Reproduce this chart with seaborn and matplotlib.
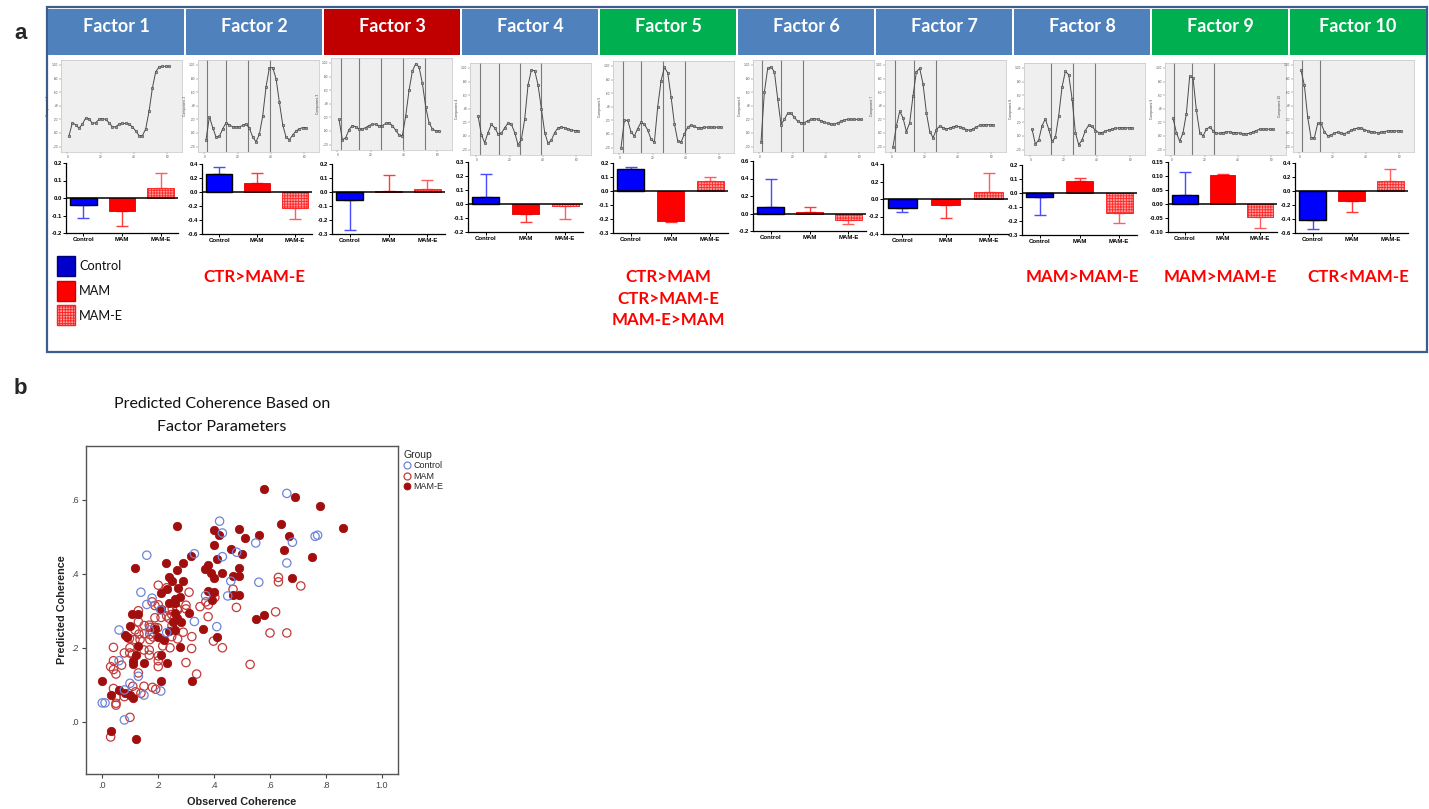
import numpy as np
import pandas as pd
import matplotlib
matplotlib.use("Agg")
import matplotlib.pyplot as plt
from matplotlib.patches import Rectangle
from matplotlib.lines import Line2D
import seaborn as sns

sns.set_theme(style="ticks")
plt.rcParams["font.family"] = ["Liberation Sans", "DejaVu Sans"]
plt.rcParams["hatch.linewidth"] = 0.6

# ------------------------------------------------------------------ data
factor_names = [f"Factor {k}" for k in range(1, 11)]
header_colors = ["#4F81BD", "#4F81BD", "#C00000", "#4F81BD", "#00B050",
                 "#4F81BD", "#4F81BD", "#4F81BD", "#00B050", "#00B050"]
groups = ["Control", "MAM", "MAM-E"]

# factor loading profiles (component value per lag)
lag = list(range(1, 62, 2))
component_1 = [-0.04, 0.15, 0.12, 0.07, 0.13, 0.22, 0.21, 0.14, 0.15, 0.20, 0.21, 0.20, 0.15, 0.09, 0.09, 0.13,
               0.14, 0.14, 0.13, 0.09, 0.03, -0.04, -0.04, 0.06, 0.32, 0.66, 0.90, 0.97, 0.98, 0.98, 0.98]
component_2 = [-0.10, 0.24, 0.08, -0.06, -0.05, 0.06, 0.15, 0.12, 0.09, 0.09, 0.09, 0.11, 0.13, 0.07, -0.06, -0.13,
               -0.02, 0.25, 0.68, 0.96, 0.96, 0.80, 0.45, 0.12, -0.06, -0.10, -0.03, 0.03, 0.06, 0.08, 0.08]
component_3 = [0.17, -0.13, -0.10, 0.02, 0.08, 0.06, 0.03, 0.03, 0.05, 0.08, 0.10, 0.10, 0.07, 0.08, 0.11, 0.12,
               0.08, 0.01, -0.06, -0.07, 0.22, 0.60, 0.88, 0.99, 0.94, 0.70, 0.35, 0.12, 0.03, 0.00, 0.00]
component_4 = [0.30, 0.02, -0.10, 0.05, 0.17, 0.12, 0.03, 0.04, 0.12, 0.19, 0.17, 0.05, -0.13, -0.05, 0.25, 0.75,
               0.97, 0.96, 0.75, 0.40, 0.05, -0.11, -0.06, 0.05, 0.12, 0.13, 0.12, 0.10, 0.09, 0.08, 0.08]
component_5 = [-0.20, 0.20, 0.20, 0.03, -0.03, 0.08, 0.17, 0.14, 0.06, -0.08, -0.12, 0.40, 0.78, 0.98, 0.90, 0.55,
               0.15, -0.10, -0.12, 0.00, 0.10, 0.13, 0.11, 0.09, 0.09, 0.10, 0.10, 0.10, 0.10, 0.10, 0.10]
component_6 = [-0.13, 0.60, 0.95, 0.97, 0.90, 0.50, 0.12, 0.20, 0.29, 0.29, 0.23, 0.17, 0.15, 0.15, 0.18, 0.20,
               0.21, 0.20, 0.18, 0.16, 0.14, 0.13, 0.13, 0.15, 0.17, 0.19, 0.20, 0.20, 0.20, 0.20, 0.20]
component_7 = [-0.20, 0.10, 0.32, 0.22, 0.02, 0.15, 0.55, 0.90, 0.95, 0.72, 0.30, 0.02, -0.07, 0.05, 0.10, 0.08,
               0.06, 0.07, 0.09, 0.10, 0.09, 0.07, 0.05, 0.04, 0.06, 0.09, 0.11, 0.12, 0.12, 0.12, 0.12]
component_8 = [0.10, -0.12, -0.06, 0.15, 0.25, 0.10, -0.08, -0.02, 0.30, 0.72, 0.95, 0.90, 0.55, 0.05, -0.13, -0.06,
               0.08, 0.16, 0.14, 0.08, 0.05, 0.05, 0.07, 0.09, 0.10, 0.11, 0.12, 0.12, 0.12, 0.12, 0.12]
component_9 = [0.26, 0.05, -0.08, 0.05, 0.33, 0.88, 0.85, 0.38, 0.05, 0.00, 0.10, 0.13, 0.08, 0.04, 0.04, 0.05,
               0.06, 0.06, 0.05, 0.05, 0.04, 0.03, 0.03, 0.04, 0.06, 0.08, 0.10, 0.10, 0.10, 0.10, 0.10]
component_10 = [0.92, 0.70, 0.23, -0.07, -0.07, 0.14, 0.14, 0.02, -0.04, -0.03, 0.00, 0.01, 0.00, -0.01, 0.01, 0.04,
                0.06, 0.07, 0.07, 0.05, 0.03, 0.02, 0.01, 0.00, 0.01, 0.02, 0.03, 0.03, 0.03, 0.03, 0.03]
components = [component_1, component_2, component_3, component_4, component_5,
              component_6, component_7, component_8, component_9, component_10]

# lag boundaries marked by vertical reference lines
segment_bounds = [[], [1.5, 13, 26, 39.5], [2, 13, 26, 39.6, 52.6], [2.4, 13.4, 26.4, 38.9],
                  [2, 13, 26.4, 39.4], [1.8, 12.8, 26], [2.2, 13.4, 26.6], [12.4, 25.4, 38.8],
                  [1.6, 12.6, 25.6], [1.6, 12.6]]

# group means and SEM of the factor scores
control_mean = [-0.038, 0.262, -0.057, 0.052, 0.157, 0.069, -0.103, -0.029, 0.033, -0.420]
control_sem = [0.076, 0.100, 0.214, 0.160, 0.014, 0.331, 0.045, 0.131, 0.080, 0.123]
mam_mean = [-0.072, 0.129, 0.010, -0.074, -0.217, 0.020, -0.065, 0.088, 0.104, -0.138]
mam_sem = [0.090, 0.138, 0.114, 0.057, 0.007, 0.050, 0.155, 0.022, 0.002, 0.162]
mame_mean = [0.057, -0.233, 0.024, -0.014, 0.069, -0.070, 0.076, -0.145, -0.046, 0.143]
mame_sem = [0.086, 0.148, 0.062, 0.091, 0.033, 0.053, 0.217, 0.067, 0.040, 0.167]

bar_ylim = [(-0.2, 0.2, 0.1), (-0.6, 0.4, 0.2), (-0.3, 0.2, 0.1), (-0.2, 0.3, 0.1), (-0.3, 0.2, 0.1),
            (-0.2, 0.6, 0.2), (-0.4, 0.4, 0.2), (-0.3, 0.2, 0.1), (-0.10, 0.15, 0.05), (-0.6, 0.4, 0.2)]

contrasts = ["", "CTR>MAM-E", "", "", "CTR>MAM\nCTR>MAM-E\nMAM-E>MAM", "", "",
             "MAM>MAM-E", "MAM>MAM-E", "CTR<MAM-E"]

# observed vs predicted coherence per animal
control_obs = [0.661, 0.421, 0.431, 0.550, 0.681, 0.762, 0.771, 0.482, 0.331, 0.161,
               0.431, 0.661, 0.561, 0.461, 0.140, 0.180, 0.161, 0.371, 0.450, 0.211,
               0.331, 0.411, 0.062, 0.170, 0.232, 0.062, 0.101, 0.081, 0.151, 0.211,
               0.002, 0.012, 0.081, 0.131]
control_pred = [0.617, 0.542, 0.510, 0.483, 0.485, 0.501, 0.504, 0.458, 0.454, 0.450,
                0.446, 0.429, 0.377, 0.380, 0.350, 0.334, 0.317, 0.341, 0.340, 0.302,
                0.271, 0.257, 0.248, 0.248, 0.241, 0.165, 0.104, 0.086, 0.072, 0.083,
                0.051, 0.051, 0.005, 0.123]
mam_obs = [0.631, 0.631, 0.711, 0.469, 0.481, 0.661, 0.530, 0.202, 0.232, 0.312,
           0.180, 0.190, 0.202, 0.131, 0.252, 0.270, 0.301, 0.301, 0.351, 0.372,
           0.381, 0.404, 0.621, 0.601, 0.380, 0.240, 0.250, 0.190, 0.212, 0.131,
           0.152, 0.172, 0.190, 0.119, 0.133, 0.152, 0.172, 0.099, 0.119, 0.137,
           0.172, 0.184, 0.250, 0.271, 0.291, 0.322, 0.042, 0.101, 0.218, 0.244,
           0.321, 0.399, 0.431, 0.081, 0.100, 0.110, 0.170, 0.170, 0.151, 0.202,
           0.202, 0.202, 0.301, 0.339, 0.042, 0.071, 0.032, 0.042, 0.051, 0.131,
           0.042, 0.111, 0.151, 0.181, 0.193, 0.121, 0.140, 0.051, 0.051, 0.051,
           0.081, 0.101, 0.032, 0.200, 0.251, 0.232, 0.240, 0.271, 0.170]
mam_pred = [0.390, 0.378, 0.367, 0.358, 0.309, 0.240, 0.155, 0.369, 0.362, 0.350,
            0.324, 0.314, 0.316, 0.300, 0.305, 0.305, 0.315, 0.305, 0.311, 0.324,
            0.316, 0.336, 0.297, 0.240, 0.284, 0.280, 0.290, 0.281, 0.282, 0.270,
            0.260, 0.255, 0.255, 0.248, 0.237, 0.238, 0.236, 0.225, 0.222, 0.222,
            0.222, 0.229, 0.230, 0.224, 0.242, 0.230, 0.201, 0.200, 0.205, 0.200,
            0.198, 0.218, 0.200, 0.186, 0.186, 0.183, 0.194, 0.180, 0.194, 0.178,
            0.165, 0.149, 0.160, 0.129, 0.165, 0.153, 0.149, 0.141, 0.129, 0.132,
            0.090, 0.096, 0.096, 0.093, 0.088, 0.081, 0.077, 0.066, 0.050, 0.045,
            0.068, 0.012, -0.041, 0.254, 0.260, 0.286, 0.302, 0.302, 0.261]
mame_obs = [0.58, 0.69, 0.78, 0.86, 0.27, 0.64, 0.40, 0.42, 0.49, 0.51,
            0.56, 0.67, 0.40, 0.65, 0.75, 0.46, 0.50, 0.32, 0.41, 0.23,
            0.29, 0.12, 0.27, 0.37, 0.38, 0.49, 0.43, 0.39, 0.401, 0.47,
            0.49, 0.68, 0.24, 0.25, 0.291, 0.271, 0.212, 0.232, 0.381, 0.401,
            0.393, 0.47, 0.49, 0.24, 0.262, 0.28, 0.262, 0.109, 0.131, 0.212,
            0.262, 0.27, 0.282, 0.254, 0.312, 0.551, 0.58, 0.363, 0.101, 0.083,
            0.089, 0.19, 0.24, 0.262, 0.202, 0.222, 0.411, 0.129, 0.28, 0.121,
            0.212, 0.111, 0.111, 0.151, 0.232, 0.002, 0.211, 0.321, 0.032, 0.062,
            0.083, 0.101, 0.111, 0.032, 0.121]
mame_pred = [0.63, 0.607, 0.582, 0.523, 0.53, 0.533, 0.517, 0.504, 0.52, 0.496,
             0.505, 0.503, 0.478, 0.465, 0.446, 0.466, 0.453, 0.448, 0.441, 0.428,
             0.428, 0.415, 0.41, 0.413, 0.423, 0.416, 0.401, 0.403, 0.389, 0.393,
             0.393, 0.389, 0.392, 0.38, 0.381, 0.362, 0.347, 0.36, 0.353, 0.35,
             0.329, 0.342, 0.342, 0.32, 0.333, 0.336, 0.32, 0.291, 0.291, 0.305,
             0.295, 0.281, 0.27, 0.27, 0.295, 0.278, 0.289, 0.252, 0.259, 0.234,
             0.23, 0.252, 0.246, 0.248, 0.228, 0.222, 0.23, 0.205, 0.201, 0.18,
             0.18, 0.164, 0.155, 0.158, 0.158, 0.109, 0.111, 0.109, 0.072, 0.086,
             0.077, 0.072, 0.063, -0.025, -0.046]

# ------------------------------------------------------------------ layout helpers
W, H = 1429, 809
fig = plt.figure(figsize=(W / 100, H / 100), dpi=100)
fig.patch.set_facecolor("white")


def px_rect(left, top, width, height):
    return [left / W, 1 - (top + height) / H, width / W, height / H]


TITLE_FONT = ["Lato", "DejaVu Sans"]

overlay = fig.add_axes([0, 0, 1, 1], zorder=-5)
overlay.set_xlim(0, W)
overlay.set_ylim(H, 0)
overlay.axis("off")

# panel a frame and header row
overlay.add_patch(Rectangle((47, 7), 1380, 345, fill=False, edgecolor="#3B5E8C", lw=1.6))
col_w = 138.0
for k, (name, hc) in enumerate(zip(factor_names, header_colors)):
    x0 = 47 + k * col_w
    overlay.add_patch(Rectangle((x0 + 0.8, 9), col_w - 1.6, 46, facecolor=hc, edgecolor="none"))
    overlay.text(x0 + col_w / 2, 26, name, color="white", fontsize=13, fontweight="bold",
                 family=TITLE_FONT, ha="center", va="center")
    if contrasts[k]:
        for j, line in enumerate(contrasts[k].split("\n")):
            overlay.text(x0 + col_w / 2, 277 + j * 21.5, line, color="#FF0000", fontsize=12.2,
                         fontweight="bold", family=TITLE_FONT, ha="center", va="center")

overlay.text(14, 33, "a", fontsize=16, fontweight="bold", ha="left", va="center")
overlay.text(14, 388, "b", fontsize=16, fontweight="bold", ha="left", va="center")

# group key of panel a
key_face = ["#0000CC", "#FF0000", "#FFA0A0"]
key_edge = ["#00007A", "#D00000", "#FF2020"]
for j, g in enumerate(groups):
    y0 = 256 + j * 24.5
    overlay.add_patch(Rectangle((57, y0), 18, 20, facecolor=key_face[j], edgecolor=key_edge[j], lw=1.0,
                                hatch="+" * 6 if g == "MAM-E" else None))
    overlay.text(79, y0 + 10.5, g, fontsize=9.2, family=TITLE_FONT, ha="left", va="center", color="#111111")

# ------------------------------------------------------------------ loading profiles
curve_start = [69, 206, 339, 478, 621, 761, 893, 1032, 1173, 1301]
curve_top = [65, 65, 63, 68, 66, 65, 65, 68, 68, 65]
ytick_vals = [-0.2, 0.0, 0.2, 0.4, 0.6, 0.8, 1.0]
ytick_txt = ["-.20", ".00", ".20", ".40", ".60", ".80", "1.00"]
for k in range(10):
    ax = fig.add_axes(px_rect(curve_start[k] - 8.3, curve_top[k] - 4.8, 121.7, 91.8))
    ax.set_facecolor("#EFEFEF")
    for b in segment_bounds[k]:
        ax.axvline(b, color="#7A7A7A", lw=0.8, zorder=1)
    sns.lineplot(x=lag, y=components[k], ax=ax, color="#4A4A4A", lw=0.7, marker="o",
                 markersize=1.9, markeredgewidth=0.35, markerfacecolor="#A0A0A0",
                 markeredgecolor="#333333", zorder=3)
    ax.set_xlim(-4, 69)
    ax.set_ylim(-0.28, 1.07)
    ax.set_xticks([0, 20, 40, 60])
    ax.set_xticklabels(["0", "20", "40", "60"])
    ax.set_yticks(ytick_vals)
    ax.set_yticklabels(ytick_txt)
    ax.tick_params(labelsize=2.3, length=1.2, width=0.3, pad=0.8, colors="#555555")
    ax.set_ylabel(f"Component {k + 1}", fontsize=2.4, labelpad=1.2, color="#444444")
    ax.set_xlabel("")
    for s in ax.spines.values():
        s.set_color("#C4C4C4")
        s.set_linewidth(0.5)

# ------------------------------------------------------------------ factor score bars
bar_left = [66, 202, 332, 468, 613, 753, 883, 1022, 1168, 1295]
bar_right = [178, 312, 445, 583, 728, 866, 1008, 1137, 1277, 1408]
bar_top = [163, 164, 164, 162, 163, 161, 164, 165, 162, 163]
bar_face = {"Control": "#0000FF", "MAM": "#FF0000", "MAM-E": "#FF9C9C"}
err_color = {"Control": "#4A4AFF", "MAM": "#FF3A3A", "MAM-E": "#FF5C5C"}

for k in range(10):
    means = [control_mean[k], mam_mean[k], mame_mean[k]]
    sems = [control_sem[k], mam_sem[k], mame_sem[k]]
    df = pd.DataFrame({"group": groups, "score": means})
    ax = fig.add_axes(px_rect(bar_left[k], bar_top[k], bar_right[k] - bar_left[k], 70))
    ax.set_facecolor("none")
    sns.barplot(data=df, x="group", y="score", hue="group", order=groups, hue_order=groups,
                palette=bar_face, width=0.68, errorbar=None, legend=False, ax=ax,
                saturation=1, zorder=2)
    bars = sorted(ax.patches, key=lambda p: p.get_x())
    for bar, g in zip(bars, groups):
        if g == "Control":
            bar.set_edgecolor("#000000")
            bar.set_linewidth(1.0)
        elif g == "MAM":
            bar.set_edgecolor("#E00000")
            bar.set_linewidth(0.6)
        else:
            bar.set_edgecolor("#FF2A2A")
            bar.set_hatch("+" * 6)
            bar.set_linewidth(0.7)
    for j, g in enumerate(groups):
        m, e = means[j], sems[j]
        yerr = [[0], [e]] if m >= 0 else [[e], [0]]
        ax.errorbar(j, m, yerr=yerr, fmt="none", ecolor=err_color[g], elinewidth=1.0,
                    capsize=4, capthick=1.0, zorder=1)
    ax.axhline(0, color="black", lw=1.1, zorder=3)
    lo, hi, step = bar_ylim[k]
    ticks = np.round(np.arange(lo, hi + step / 2, step), 2)
    fmt = "{:.2f}" if step < 0.1 else "{:.1f}"
    ax.set_ylim(lo, hi)
    ax.set_xlim(-0.45, 2.45)
    ax.set_yticks(ticks)
    ax.set_yticklabels([fmt.format(0.0 if abs(t) < 1e-9 else t) for t in ticks])
    ax.set_xlabel("")
    ax.set_ylabel("")
    sns.despine(ax=ax)
    for side in ("left", "bottom"):
        ax.spines[side].set_color("black")
        ax.spines[side].set_linewidth(0.9)
    ax.tick_params(labelsize=4.3, length=2, width=0.7, pad=1, colors="black")
    for lbl in ax.get_xticklabels() + ax.get_yticklabels():
        lbl.set_fontweight("bold")

# ------------------------------------------------------------------ panel b scatter
overlay.text(222, 404, "Predicted Coherence Based on", fontsize=11.5, family=TITLE_FONT,
             ha="center", va="center", color="#111111")
overlay.text(222, 427, "Factor Parameters", fontsize=11.5, family=TITLE_FONT,
             ha="center", va="center", color="#111111")

sax = fig.add_axes(px_rect(86, 446, 312, 328))
scatter_sets = [
    ("MAM", mam_obs, mam_pred, "#C33A3A", True),
    ("MAM-E", mame_obs, mame_pred, "#A10E0E", False),
    ("Control", control_obs, control_pred, "#6E85D8", True),
]
for name, obs, pred, col, hollow in scatter_sets:
    df = pd.DataFrame({"Observed Coherence": obs, "Predicted Coherence": pred})
    if hollow:
        sns.scatterplot(data=df, x="Observed Coherence", y="Predicted Coherence", ax=sax,
                        s=36, marker="o", color=col, facecolors="none", edgecolor=col,
                        linewidth=0.9, zorder=3)
    else:
        sns.scatterplot(data=df, x="Observed Coherence", y="Predicted Coherence", ax=sax,
                        s=36, marker="o", color=col, edgecolor=col, linewidth=0.6, zorder=3)

sax.set_xlim(-0.056, 1.058)
sax.set_ylim(-0.141, 0.745)
sax.set_xticks([0, 0.2, 0.4, 0.6, 0.8, 1.0])
sax.set_xticklabels([".0", ".2", ".4", ".6", ".8", "1.0"])
sax.set_yticks([0, 0.2, 0.4, 0.6])
sax.set_yticklabels([".0", ".2", ".4", ".6"])
sax.tick_params(labelsize=6.5, length=3, width=0.8, pad=2, colors="#444444")
for s in sax.spines.values():
    s.set_color("#555555")
    s.set_linewidth(1.0)
sax.set_xlabel("Observed Coherence", fontsize=7.8, fontweight="bold", color="#222222")
sax.set_ylabel("Predicted Coherence", fontsize=7.8, fontweight="bold", color="#222222")
sax.xaxis.set_label_coords(0.5, -0.07)
sax.yaxis.set_label_coords(-0.062, 0.5)

legend_colors = {"Control": "#6E85D8", "MAM": "#C33A3A", "MAM-E": "#A10E0E"}
handles = [
    Line2D([], [], ls="", marker="o", ms=5, mfc="none", mec=legend_colors["Control"], mew=0.9),
    Line2D([], [], ls="", marker="o", ms=5, mfc="none", mec=legend_colors["MAM"], mew=0.9),
    Line2D([], [], ls="", marker="o", ms=5, mfc=legend_colors["MAM-E"], mec=legend_colors["MAM-E"], mew=0.6),
]
sax.legend(handles, groups, title="Group", loc="upper left",
           bbox_to_anchor=(404 / W, 1 - 450 / H), bbox_transform=fig.transFigure,
           frameon=False, fontsize=6.5, title_fontsize=7.5, handlelength=0.7,
           handletextpad=0.3, labelspacing=0.15, borderpad=0, borderaxespad=0,
           alignment="left")

fig.savefig("out.png", dpi=100, facecolor="white")
